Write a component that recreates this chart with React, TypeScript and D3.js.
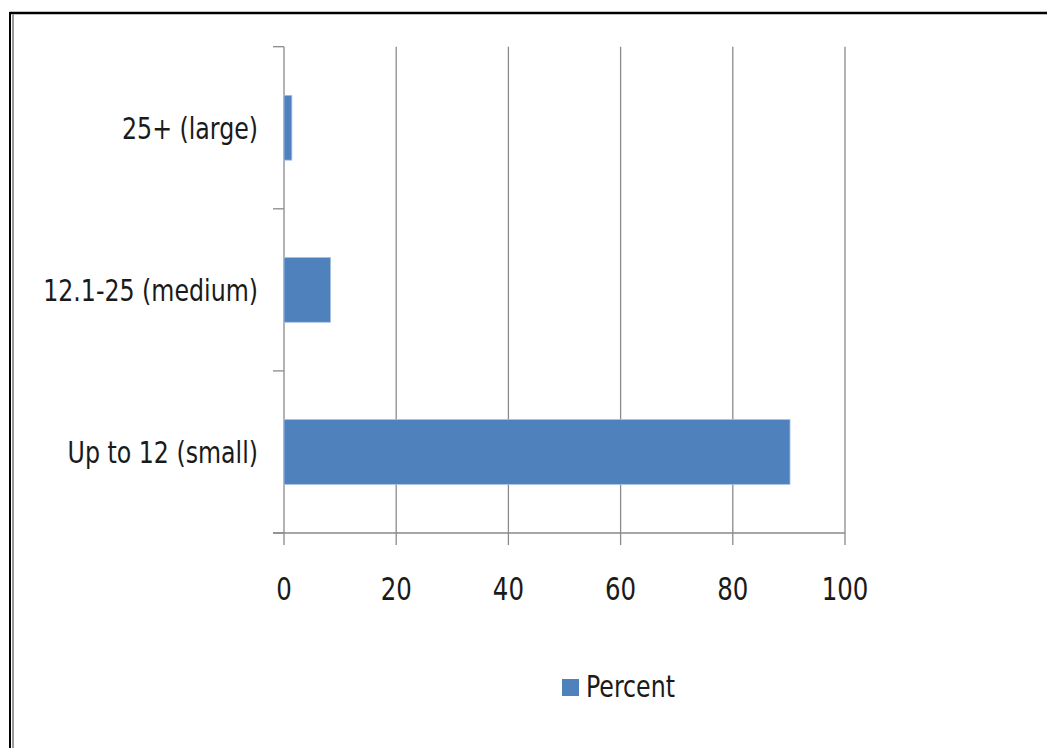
import React from "react";
import * as d3 from "d3";

const categories = ["25+ (large)", "12.1-25 (medium)", "Up to 12 (small)"];
const percentValues = [1.4, 8.3, 90.2];
const xTicks = [0, 20, 40, 60, 80, 100];
const seriesName = "Percent";

const W = 1047;
const H = 748;
const FONT = "'DejaVu Sans Condensed', 'DejaVu Sans', sans-serif";
const SX = 0.85;

function Label(props: { x: number; y: number; anchor: string; size: number; children: React.ReactNode }) {
  return (
    <text
      transform={`translate(${props.x},${props.y}) scale(${SX},1)`}
      textAnchor={props.anchor}
      fontFamily={FONT}
      fontSize={props.size}
      fill="#1a1a1a"
    >
      {props.children}
    </text>
  );
}

export default function App() {
  const left = 284;
  const right = 845;
  const top = 46.7;
  const bottom = 533;

  const x = d3.scaleLinear().domain([0, 100]).range([left, right]);
  const y = d3
    .scaleBand<string>()
    .domain(categories)
    .range([top, bottom])
    .paddingInner(0.6)
    .paddingOuter(0.3);
  const step = y.step();
  const boundaries = d3.range(categories.length + 1).map((i) => top + i * step);
  const grid = "#8a8a8a";

  return (
    <svg
      width={W}
      height={H}
      style={{ position: "absolute", left: 0, top: 0, background: "#fff" }}
    >
      {/* frame */}
      <line x1={9.5} y1={13} x2={W} y2={13} stroke="#000" strokeWidth={2.4} />
      <line x1={10} y1={12} x2={10} y2={H} stroke="#000" strokeWidth={2} />
      <line x1={13} y1={14} x2={13} y2={H} stroke="#9a9a9a" strokeWidth={2} />

      {/* vertical gridlines */}
      {xTicks.map((t) => (
        <line
          key={"g" + t}
          x1={x(t)}
          x2={x(t)}
          y1={top}
          y2={bottom + 12}
          stroke={grid}
          strokeWidth={1.3}
        />
      ))}

      {/* category ticks */}
      {boundaries.map((b, i) => (
        <line key={"ct" + i} x1={left - 11} x2={left} y1={b} y2={b} stroke={grid} strokeWidth={1.3} />
      ))}
      {/* x axis line */}
      <line x1={left - 11} x2={right} y1={bottom} y2={bottom} stroke={grid} strokeWidth={1.3} />

      {/* bars */}
      {categories.map((c, i) => (
        <rect
          key={c}
          x={x(0)}
          y={y(c)}
          width={x(percentValues[i]) - x(0)}
          height={y.bandwidth()}
          fill="#4f81bd"
          stroke="#a9c1e3"
          strokeWidth={0.8}
        />
      ))}

      {/* category labels */}
      {categories.map((c) => (
        <Label key={"l" + c} x={258} y={(y(c) as number) + y.bandwidth() / 2 + 11} anchor="end" size={31}>
          {c}
        </Label>
      ))}

      {/* x tick labels */}
      {xTicks.map((t) => (
        <Label key={"xl" + t} x={x(t)} y={600} anchor="middle" size={32}>
          {t}
        </Label>
      ))}

      {/* legend */}
      <rect x={562} y={679} width={17} height={17} fill="#4f81bd" />
      <Label x={586} y={697} anchor="start" size={31}>
        {seriesName}
      </Label>
    </svg>
  );
}
